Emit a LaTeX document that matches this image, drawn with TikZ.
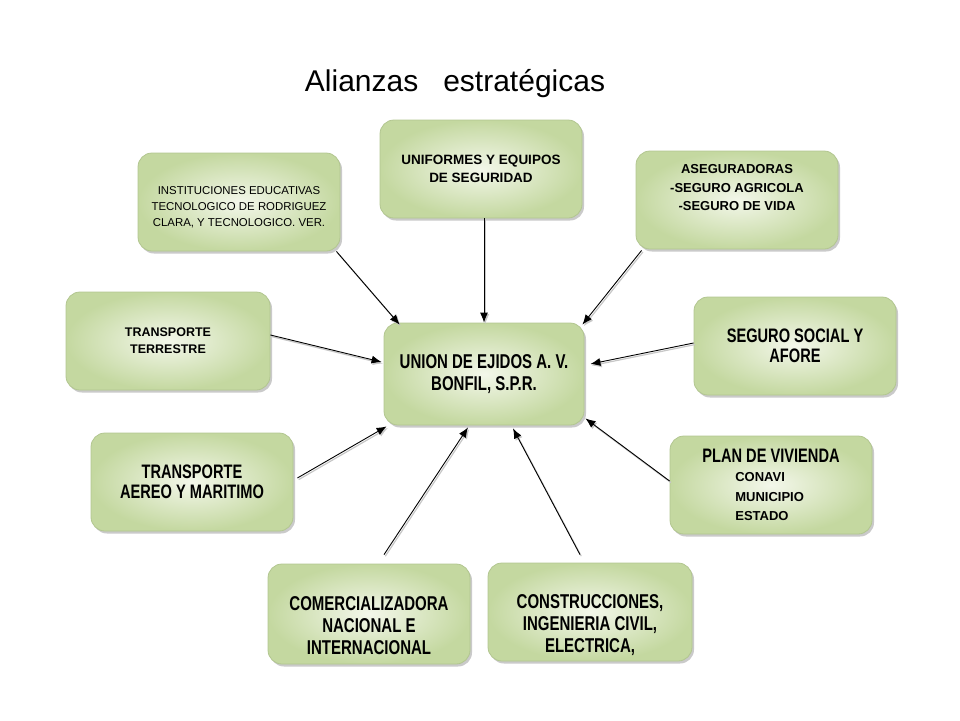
\documentclass[tikz,border=0pt]{standalone}
\usepackage{fontspec}
\setmainfont{Liberation Sans}
\newfontfamily\narrowfont{Liberation Sans}[FakeStretch=0.75]
\usetikzlibrary{arrows.meta,shadows}
\definecolor{boxin}{HTML}{F3F7EA}
\definecolor{boxout}{HTML}{C4D8A0}
\definecolor{boxline}{HTML}{B2C690}

\begin{document}
\begin{tikzpicture}[x=1pt,y=-1pt]
	\tikzstyle{main}=[rectangle, rounded corners=14pt, minimum width=202pt, minimum height=98pt, inner sep=0pt, draw=boxline, line width=0.8pt, inner color=boxin, outer color=boxout, drop shadow={shadow xshift=2pt, shadow yshift=-2.5pt, fill=black!35, opacity=0.6}, align=center]
	\tikzstyle{small}=[align=center, font=\bfseries\fontsize{13.5}{18}\selectfont]
	\tikzstyle{thin}=[align=center, font=\fontsize{11.4}{16}\selectfont]
	\tikzstyle{big}=[align=center, font=\narrowfont\bfseries\fontsize{20}{22}\selectfont]
	\tikzstyle{connect}=[-{Latex[length=10pt,width=8pt]}, line width=0.9pt, preaction={draw=black!22, line width=1.2pt, transform canvas={xshift=1.3pt,yshift=-1.6pt}}]
	\useasboundingbox (0,0) rectangle (960,720);

	  \node (title) at (455,84) {\fontsize{30}{36}\selectfont Alianzas\hspace{25pt}estratégicas};

	  \node[main, big, minimum width=200pt, minimum height=102pt] (union) at (484,374) {UNION DE EJIDOS A. V.\\BONFIL, S.P.R.};
	  \node[main, small] (uni) at (481,169) {UNIFORMES Y EQUIPOS\\DE SEGURIDAD};
	  \node[main, label={[thin, yshift=-5pt]center:INSTITUCIONES EDUCATIVAS\\TECNOLOGICO DE RODRIGUEZ\\CLARA,  Y TECNOLOGICO. VER.}] (inst) at (239,202) {};
	  \node[main, label={[small, font=\bfseries\fontsize{13}{18.5}\selectfont, yshift=12pt]center:ASEGURADORAS\\-SEGURO AGRICOLA\\-SEGURO DE VIDA}] (aseg) at (737,200) {};
	  \node[main, small, font=\bfseries\fontsize{12.5}{17}\selectfont, minimum width=204pt] (tter) at (168,341) {TRANSPORTE\\TERRESTRE};
	  \node[main, big, font=\narrowfont\bfseries\fontsize{19.5}{20}\selectfont] (seg) at (795,346) {SEGURO SOCIAL Y\\AFORE};
	  \node[main, big, font=\narrowfont\bfseries\fontsize{19.5}{20}\selectfont] (taer) at (192,482) {TRANSPORTE\\AEREO Y MARITIMO};
	  \node[main, align=left, font=\bfseries\fontsize{13}{19.5}\selectfont] (plan) at (771,485) {{\narrowfont\fontsize{19.5}{20}\selectfont PLAN DE VIVIENDA}\\\hspace*{33pt}CONAVI\\\hspace*{33pt}MUNICIPIO\\\hspace*{33pt}ESTADO};
	  \node[main, minimum height=100pt, label={[big, yshift=-12pt]center:COMERCIALIZADORA\\NACIONAL E\\INTERNACIONAL}] (com) at (369,614) {};
	  \node[main, minimum width=204pt, label={[big, yshift=-13pt]center:CONSTRUCCIONES,\\INGENIERIA CIVIL,\\ELECTRICA,}] (con) at (590,612) {};

	  \path ([xshift=-4pt]inst.south east) edge [connect] ([xshift=16pt,yshift=-2pt]union.north west)
			(uni.south -| union.north) edge [connect] (union.north)
			([xshift=6pt,yshift=-1pt]aseg.south west) edge [connect] ([xshift=-2pt,yshift=-2pt]union.north east)
			([yshift=6pt]tter.east) edge [connect] ([xshift=-2pt,yshift=12pt]union.west)
			([yshift=3pt]seg.west) edge [connect] ([xshift=6pt,yshift=10pt]union.east)
			([xshift=4pt,yshift=4pt]taer.east) edge [connect] ([xshift=3pt,yshift=-1pt]union.south west)
			([yshift=4pt]plan.west) edge [connect] ([xshift=1pt,yshift=7pt]union.south east)
			([xshift=15pt,yshift=9pt]com.north) edge [connect] ([xshift=-16pt,yshift=-2pt]union.south)
			([xshift=-10pt,yshift=8pt]con.north) edge [connect] ([xshift=29pt,yshift=-3pt]union.south);
\end{tikzpicture}
\end{document}
